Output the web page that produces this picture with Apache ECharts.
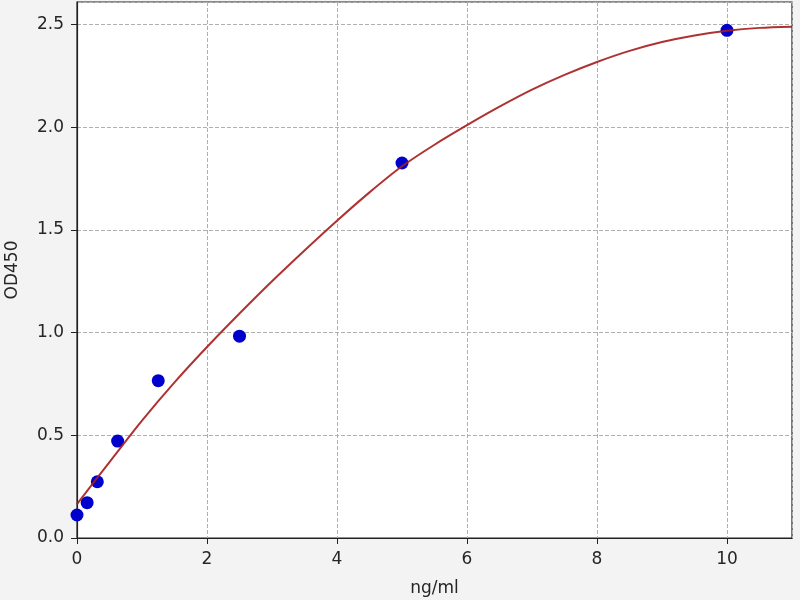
<!DOCTYPE html>
<html>
<head>
<meta charset="utf-8">
<script src="https://cdn.jsdelivr.net/npm/echarts@6/dist/echarts.min.js"></script>
<style>
  html, body { margin: 0; padding: 0; background: #f3f3f3; }
  #chart { width: 800px; height: 600px; }
</style>
</head>
<body>
<div id="chart"></div>
<script>
// standards (ng/ml) and measured OD450
var concArr = [0, 0.156, 0.3125, 0.625, 1.25, 2.5, 5, 10];
var odArr = [0.112, 0.172, 0.274, 0.472, 0.766, 0.983, 1.826, 2.472];

// fitted curve, every 0.5 ng/ml
var fitX = [0, 0.5, 1, 1.5, 2, 2.5, 3, 3.5, 4, 4.5, 5, 5.5, 6, 6.5, 7, 7.5, 8, 8.5, 9, 9.5, 10, 10.5, 11];
var fitY = [0.165, 0.37, 0.572, 0.758, 0.93, 1.093, 1.25, 1.40, 1.545, 1.683, 1.81, 1.915, 2.01, 2.10, 2.183, 2.255, 2.318, 2.372, 2.415, 2.447, 2.47, 2.484, 2.49];

var xTicks = [0, 2, 4, 6, 8, 10];
var yTicks = [0.0, 0.5, 1.0, 1.5, 2.0, 2.5];

var pts = [];
for (var i = 0; i < concArr.length; i++) {
    pts.push([concArr[i], odArr[i]]);
}
var fit = [];
for (var j = 0; j < fitX.length; j++) {
    fit.push([fitX[j], fitY[j]]);
}

var dom = document.getElementById('chart');
var myChart = echarts.init(dom);
var font = 'DejaVu Sans';

var option = {
    backgroundColor: '#f3f3f3',
    animation: false,
    grid: {
        left: 77,
        right: 8,
        top: 2,
        bottom: 62,
        outerBoundsMode: 'none',
        containLabel: false,
        show: true,
        backgroundColor: '#ffffff',
        borderColor: '#222',
        borderWidth: 1.2
    },
    xAxis: {
        type: 'value',
        min: 0,
        max: 11,
        interval: 2,
        name: 'ng/ml',
        nameLocation: 'middle',
        nameGap: 42,
        nameTextStyle: { fontFamily: font, fontSize: 17, color: '#262626' },
        axisLine: { show: true, lineStyle: { color: '#222', width: 1.2 } },
        axisTick: { show: true, length: 6, lineStyle: { color: '#222' } },
        axisLabel: {
            margin: 13,
            fontFamily: font,
            fontSize: 17,
            color: '#262626',
            showMaxLabel: false,
            formatter: function (v) {
                return xTicks.indexOf(v) >= 0 ? String(v) : '';
            }
        },
        splitLine: { show: true, lineStyle: { color: '#b0b0b0', type: [4, 2], width: 1 } }
    },
    yAxis: {
        type: 'value',
        min: 0,
        max: 2.61,
        interval: 0.5,
        name: 'OD450',
        nameLocation: 'middle',
        nameGap: 56,
        nameTextStyle: { fontFamily: font, fontSize: 17, color: '#262626' },
        axisLine: { show: true, lineStyle: { color: '#222', width: 1.2 } },
        axisTick: { show: true, length: 6, lineStyle: { color: '#222' } },
        axisLabel: {
            margin: 13,
            fontFamily: font,
            fontSize: 17,
            color: '#262626',
            showMaxLabel: false,
            formatter: function (v) {
                var r = Math.round(v * 10) / 10;
                return yTicks.indexOf(r) >= 0 && Math.abs(r - v) < 1e-6 ? r.toFixed(1) : '';
            }
        },
        splitLine: { show: true, lineStyle: { color: '#b0b0b0', type: [4, 2], width: 1 } }
    },
    series: [
        {
            name: 'OD450',
            type: 'scatter',
            data: pts,
            symbol: 'circle',
            symbolSize: 13,
            itemStyle: { color: '#0000cc', opacity: 1 },
            z: 2
        },
        {
            name: 'fit',
            type: 'line',
            data: fit,
            smooth: 0.3,
            showSymbol: false,
            symbol: 'none',
            lineStyle: { color: '#a61c1c', width: 2, opacity: 0.9 },
            z: 3
        }
    ]
};

myChart.setOption(option);
window.onresize = myChart.resize;
</script>
</body>
</html>
